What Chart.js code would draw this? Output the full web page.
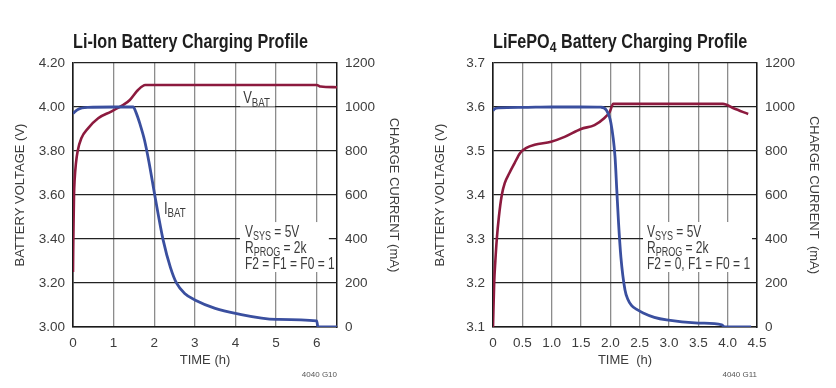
<!DOCTYPE html>
<html>
<head>
<meta charset="utf-8">
<title>Battery Charging Profiles</title>
<script src="https://cdn.jsdelivr.net/npm/chart.js@4/dist/chart.umd.min.js"></script>
<style>
    html, body { margin: 0; padding: 0; background: #fff; }
    .panel { position: absolute; top: 0; }
    #liIonChart { left: 0; }
    #lfpChart { left: 420px; }
</style>
</head>
<body>
<canvas id="liIonChart" class="panel" width="416" height="388"></canvas>
<canvas id="lfpChart" class="panel" width="416" height="388"></canvas>
<script>
// ===== DATA =====
// Li-Ion: time in hours, VBAT in volts, IBAT in mA
const liIonVbatTime = [0, 0.005, 0.012, 0.025, 0.04, 0.07, 0.115, 0.205, 0.37, 0.62, 0.94, 1.23, 1.4, 1.6, 1.78, 2.5, 3.5, 4.5, 5.5, 6.0, 6.1, 6.5];
const liIonVbat     = [3.25, 3.35, 3.45, 3.6, 3.668, 3.74, 3.80, 3.858, 3.903, 3.949, 3.979, 4.009, 4.032, 4.077, 4.10, 4.10, 4.10, 4.10, 4.10, 4.10, 4.093, 4.09];
const liIonIbatTime = [0, 0.12, 0.37, 1.0, 1.48, 1.56, 1.65, 1.76, 1.87, 2.02, 2.22, 2.4, 2.55, 2.75, 3.0, 3.5, 4.0, 5.0, 6.0, 6.03, 6.5];
const liIonIbat     = [971, 989, 998, 1000, 1000, 971, 922, 850, 750, 592, 395, 270, 199, 152, 123, 85, 62, 35, 28, 0, 0];

// LiFePO4
const lfpVbatTime = [0, 0.02, 0.04, 0.065, 0.1, 0.15, 0.2, 0.28, 0.37, 0.46, 0.57, 0.71, 0.99, 1.22, 1.5, 1.73, 1.9, 1.99, 2.05, 2.5, 3.0, 3.5, 3.92, 4.1, 4.35];
const lfpVbat     = [3.1, 3.2, 3.25, 3.3, 3.35, 3.4, 3.427, 3.45, 3.473, 3.495, 3.507, 3.514, 3.521, 3.532, 3.55, 3.559, 3.575, 3.589, 3.607, 3.607, 3.607, 3.607, 3.607, 3.597, 3.584];
const lfpIbatTime = [0, 0.02, 0.1, 0.5, 1.0, 1.5, 1.84, 1.93, 2.01, 2.08, 2.11, 2.14, 2.18, 2.25, 2.3, 2.36, 2.45, 2.56, 2.75, 2.96, 3.5, 3.9, 3.95, 4.4];
const lfpIbat     = [983, 990, 996, 998, 1000, 1000, 999, 986, 927, 773, 623, 473, 318, 168, 125, 98, 80, 64, 44, 32, 18, 10, 0, 0];

// axis ranges / tick steps
const liIonTimeRange = [0, 6.5];
const liIonVoltRange = [3.0, 4.2];
const lfpTimeRange = [0, 4.5];
const lfpVoltRange = [3.1, 3.7];
const currentRange = [0, 1200];

const FONT = "'Liberation Sans', Arial, sans-serif";
const SQUEEZE = 0.81;     // datasheet type is a condensed face
const BOX_SQUEEZE = 0.75; // test conditions are set even tighter
const RED = '#8c1a3e';
const BLUE = '#3a4f9f';
const INK = '#3c3c3c';
const TICK_SIZE = 13.5;

Chart.defaults.font.family = FONT;
Chart.defaults.color = INK;

function pairs(xs, ys) {
    return xs.map((x, i) => ({ x: x, y: ys[i] }));
}

// text with subscripts, parts = [{t, sub}], drawn condensed
function drawRich(ctx, parts, x, y, size, weight, squeeze) {
    const sq = squeeze || SQUEEZE;
    ctx.save();
    ctx.translate(x, y);
    ctx.scale(sq, 1);
    let cx = 0;
    parts.forEach(p => {
        const s = p.sub ? size * 0.75 : size;
        ctx.font = (weight || 'normal') + ' ' + s + 'px ' + FONT;
        ctx.fillText(p.t, cx, p.sub ? size * 0.2 : 0);
        cx += ctx.measureText(p.t).width;
    });
    ctx.restore();
    return cx * sq;
}

function richWidth(ctx, parts, size, weight) {
    let w = 0;
    parts.forEach(p => {
        const s = p.sub ? size * 0.75 : size;
        ctx.font = (weight || 'normal') + ' ' + s + 'px ' + FONT;
        w += ctx.measureText(p.t).width;
    });
    return w * SQUEEZE;
}

// ===== TITLES, LABELS, CONDITIONS BOX =====
const chartNotes = {
    id: 'chartNotes',
    beforeDatasetsDraw(chart, args, opts) {
        const { ctx, scales: { x, y } } = chart;
        ctx.save();
        ctx.fillStyle = '#fff';
        const b = opts.box;
        if (b) {
            const l = x.getPixelForValue(b.x0), r = x.getPixelForValue(b.x1);
            const t = y.getPixelForValue(b.y0), btm = y.getPixelForValue(b.y1);
            ctx.fillRect(l, t, r - l, btm - t);
        }
        (opts.labels || []).forEach(lb => {
            const px = x.getPixelForValue(lb.x), py = y.getPixelForValue(lb.y);
            const w = richWidth(ctx, lb.parts, 16);
            ctx.fillRect(px - 3, py - 13, w + 8, 16);
        });
        ctx.restore();
    },
    afterDatasetsDraw(chart, args, opts) {
        const { ctx, chartArea, scales: { x, y } } = chart;
        ctx.save();
        ctx.fillStyle = INK;
        ctx.textBaseline = 'alphabetic';
        ctx.textAlign = 'left';
        (opts.labels || []).forEach(lb => {
            drawRich(ctx, lb.parts, x.getPixelForValue(lb.x), y.getPixelForValue(lb.y), 16);
        });
        const b = opts.box;
        if (b) {
            const tx = x.getPixelForValue(b.textX);
            const top = y.getPixelForValue(b.y0);
            b.lines.forEach((line, i) => {
                drawRich(ctx, line, tx, top + 15 + i * 16, 16, 'normal', BOX_SQUEEZE);
            });
        }
        // chart title
        ctx.fillStyle = '#1e1e1e';
        drawRich(ctx, opts.title, chartArea.left, 48, 20, 'bold');
        // figure code
        ctx.fillStyle = '#555';
        ctx.textAlign = 'right';
        ctx.font = '8px ' + FONT;
        ctx.fillText(opts.code, chartArea.right, 377);
        ctx.restore();
    }
};

function makeChart(id, cfg) {
    const canvas = document.getElementById(id);
    const ctx = canvas.getContext('2d');
    return new Chart(ctx, {
        type: 'line',
        data: {
            datasets: [
                {
                    label: 'IBAT',
                    data: pairs(cfg.ibatTime, cfg.ibat),
                    yAxisID: 'y2',
                    borderColor: BLUE,
                    borderWidth: 2.8,
                    pointRadius: 0,
                    cubicInterpolationMode: 'monotone',
                    fill: false
                },
                {
                    label: 'VBAT',
                    data: pairs(cfg.vbatTime, cfg.vbat),
                    yAxisID: 'y',
                    borderColor: RED,
                    borderWidth: 2.6,
                    pointRadius: 0,
                    cubicInterpolationMode: 'monotone',
                    fill: false
                }
            ]
        },
        options: {
            responsive: false,
            animation: false,
            layout: { padding: { top: 63, left: 0, right: 0, bottom: 0 } },
            plugins: {
                legend: { display: false },
                tooltip: { enabled: false },
                chartNotes: cfg.notes
            },
            scales: {
                x: {
                    type: 'linear',
                    min: cfg.timeRange[0],
                    max: cfg.timeRange[1],
                    border: { display: true, color: '#1a1a1a', width: 1.5 },
                    grid: {
                        drawTicks: false,
                        lineWidth: 1.3,
                        color: c => (c.tick && c.tick.value === 0) ? '#1a1a1a' : '#8c8c8c'
                    },
                    ticks: {
                        stepSize: cfg.timeStep,
                        includeBounds: false,
                        padding: 8,
                        maxRotation: 0,
                        color: INK,
                        font: { size: TICK_SIZE }
                    },
                    title: {
                        display: true,
                        text: cfg.timeTitle,
                        color: INK,
                        font: { size: 13 },
                        padding: { top: 0, bottom: 20 }
                    },
                    afterFit: s => { s.height = 61; }
                },
                y: {
                    position: 'left',
                    min: cfg.voltRange[0],
                    max: cfg.voltRange[1],
                    border: { display: true, color: '#1a1a1a', width: 1.5 },
                    grid: { drawTicks: false, color: '#222', lineWidth: 1.2 },
                    ticks: {
                        stepSize: cfg.voltStep,
                        padding: 8,
                        color: INK,
                        font: { size: TICK_SIZE },
                        callback: v => v.toFixed(cfg.voltDigits)
                    },
                    title: {
                        display: true,
                        text: 'BATTERY VOLTAGE (V)',
                        color: INK,
                        font: { size: 13 },
                        padding: { top: 13, bottom: 0 }
                    },
                    afterFit: s => { s.width = 73; }
                },
                y2: {
                    position: 'right',
                    min: currentRange[0],
                    max: currentRange[1],
                    border: { display: true, color: '#1a1a1a', width: 1.5 },
                    grid: { drawOnChartArea: false, drawTicks: false },
                    ticks: {
                        stepSize: 200,
                        padding: 8,
                        color: INK,
                        font: { size: TICK_SIZE },
                        callback: v => String(v)
                    },
                    title: {
                        display: true,
                        text: cfg.currentTitle,
                        color: INK,
                        font: { size: 13 },
                        padding: { top: 15, bottom: 0 }
                    },
                    afterFit: s => { s.width = 79; }
                }
            }
        },
        plugins: [chartNotes]
    });
}

// ===== LI-ION =====
makeChart('liIonChart', {
    vbatTime: liIonVbatTime, vbat: liIonVbat,
    ibatTime: liIonIbatTime, ibat: liIonIbat,
    timeRange: liIonTimeRange, timeStep: 1,
    voltRange: liIonVoltRange, voltStep: 0.2, voltDigits: 2,
    timeTitle: 'TIME (h)',
    currentTitle: 'CHARGE CURRENT (mA)',
    notes: {
        title: [{ t: 'Li-Ion Battery Charging Profile' }],
        code: '4040 G10',
        labels: [
            { x: 4.19, y: 4.016, parts: [{ t: 'V' }, { t: 'BAT', sub: true }] },
            { x: 2.24, y: 3.514, parts: [{ t: 'I' }, { t: 'BAT', sub: true }] }
        ],
        box: {
            x0: 4.11, x1: 6.3, y0: 3.477, y1: 3.25, textX: 4.235,
            lines: [
                [{ t: 'V' }, { t: 'SYS', sub: true }, { t: ' = 5V' }],
                [{ t: 'R' }, { t: 'PROG', sub: true }, { t: ' = 2k' }],
                [{ t: 'F2 = F1 = F0 = 1' }]
            ]
        }
    }
});

// ===== LiFePO4 =====
makeChart('lfpChart', {
    vbatTime: lfpVbatTime, vbat: lfpVbat,
    ibatTime: lfpIbatTime, ibat: lfpIbat,
    timeRange: lfpTimeRange, timeStep: 0.5,
    voltRange: lfpVoltRange, voltStep: 0.1, voltDigits: 1,
    timeTitle: 'TIME  (h)',
    currentTitle: 'CHARGE CURRENT  (mA)',
    notes: {
        title: [{ t: 'LiFePO' }, { t: '4', sub: true }, { t: ' Battery Charging Profile' }],
        code: '4040 G11',
        labels: [],
        box: {
            x0: 2.557, x1: 4.415, y0: 3.3386, y1: 3.225, textX: 2.625,
            lines: [
                [{ t: 'V' }, { t: 'SYS', sub: true }, { t: ' = 5V' }],
                [{ t: 'R' }, { t: 'PROG', sub: true }, { t: ' = 2k' }],
                [{ t: 'F2 = 0, F1 = F0 = 1' }]
            ]
        }
    }
});
</script>
</body>
</html>
